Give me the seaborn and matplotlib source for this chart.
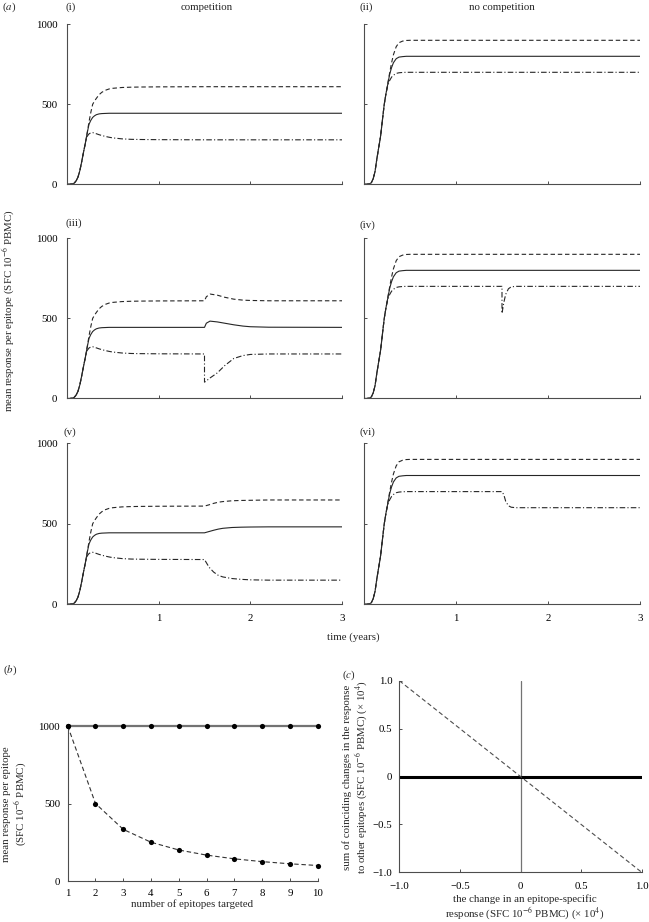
import numpy as np
import pandas as pd
import matplotlib
matplotlib.use('Agg')
import matplotlib.pyplot as plt
import seaborn as sns

# tiempos comunes hasta t = 1.5 anos
t_pre = [0, 0.03, 0.06, 0.08, 0.1, 0.12, 0.14, 0.16, 0.18, 0.2, 0.22, 0.24, 0.26,
         0.28, 0.3, 0.32, 0.35, 0.38, 0.42, 0.46, 0.5, 0.6, 0.7, 0.8, 1.0, 1.5]

# con competicion (i), (iii), (v) antes de la perturbacion
comp_dash_pre = [0, 0, 3, 8, 22, 45, 85, 140, 200, 256, 320, 390, 450,
                 500, 520, 537, 560, 575, 588, 596, 600, 605, 607, 608, 609, 610]
comp_solid_pre = [0, 0, 3, 8, 22, 45, 85, 140, 200, 256, 320, 375, 400,
                  418, 428, 435, 440, 442, 443, 444, 444, 444, 444, 444, 444, 444]
comp_dashdot_pre = [0, 0, 3, 8, 22, 45, 85, 140, 200, 256, 300, 315, 322,
                    323, 320, 316, 310, 305, 299, 294, 290, 284, 281, 280, 279, 278]

# sin competicion (ii), (iv), (vi) antes de la perturbacion
nocomp_dash_pre = [0, 0, 3, 10, 35, 80, 160, 230, 300, 400, 500, 570, 635,
                   700, 760, 810, 860, 885, 895, 899, 900, 900, 900, 900, 900, 900]
nocomp_solid_pre = [0, 0, 3, 10, 35, 80, 160, 230, 300, 400, 500, 570, 631,
                    690, 730, 760, 785, 795, 798, 800, 800, 800, 800, 800, 800, 800]
nocomp_dashdot_pre = [0, 0, 3, 10, 35, 80, 160, 230, 300, 400, 500, 570, 620,
                      650, 670, 682, 693, 697, 699, 700, 700, 700, 700, 700, 700, 700]

# despues de t = 1.5
t_i = [2.0, 3.0]
dash_i = [610, 610]
solid_i = [444, 444]
dashdot_i = [278, 278]

t_ii = [2.0, 3.0]
dash_ii = [900, 900]
solid_ii = [800, 800]
dashdot_ii = [700, 700]

t_iii = [1.5, 1.52, 1.56, 1.64, 1.72, 1.82, 1.92, 2.0, 2.2, 3.0]
dash_iii = [610, 635, 652, 645, 632, 620, 614, 612, 610, 610]
solid_iii = [444, 470, 483, 478, 470, 460, 452, 448, 445, 444]
dashdot_iii = [102, 110, 128, 160, 205, 250, 268, 275, 278, 278]

t_iv = [1.5, 1.52, 1.54, 1.57, 1.6, 1.65, 3.0]
dash_iv = [900, 900, 900, 900, 900, 900, 900]
solid_iv = [800, 800, 800, 800, 800, 800, 800]
dashdot_iv = [531, 600, 650, 685, 697, 700, 700]

t_v = [1.5, 1.55, 1.6, 1.65, 1.7, 1.8, 1.9, 2.0, 2.2, 3.0]
dash_v = [610, 618, 627, 634, 638, 643, 645, 646, 648, 648]
solid_v = [444, 452, 460, 467, 472, 477, 479, 480, 481, 481]
dashdot_v = [278, 230, 200, 180, 170, 160, 155, 152, 150, 150]

t_vi = [1.5, 1.52, 1.54, 1.57, 1.6, 1.65, 3.0]
dash_vi = [900, 900, 900, 900, 900, 900, 900]
solid_vi = [800, 800, 800, 800, 800, 800, 800]
dashdot_vi = [700, 680, 640, 612, 603, 600, 600]

# panel (b)
epitopes = [1, 2, 3, 4, 5, 6, 7, 8, 9, 10]
no_comp_mean = [1000, 1000, 1000, 1000, 1000, 1000, 1000, 1000, 1000, 1000]
comp_mean = [1000, 500, 333, 250, 200, 167, 143, 125, 111, 100]

# panel (c)
change = [-1.0, 1.0]
comp_change = [1.0, -1.0]
nocomp_change = [0.0, 0.0]
c_ticks = [-1.0, -0.5, 0, 0.5, 1.0]
c_ticklabels = ['\u22121.0', '\u22120.5', '0', '0.5', '1.0']

sns.set_style('ticks')
plt.rcParams['font.family'] = ['Liberation Serif', 'DejaVu Serif']
plt.rcParams['mathtext.fontset'] = 'stix'
plt.rcParams['axes.linewidth'] = 0.8
plt.rcParams['axes.edgecolor'] = '0.3'
plt.rcParams['xtick.color'] = '0.3'
plt.rcParams['ytick.color'] = '0.3'
plt.rcParams['xtick.labelcolor'] = 'black'
plt.rcParams['ytick.labelcolor'] = 'black'

FS = 7.8
W, H = 649, 922
fig = plt.figure(figsize=(6.49, 9.22), dpi=100)


def add_ax(x0, x1, ytop, ybot):
    return fig.add_axes([x0 / W, 1 - ybot / H, (x1 - x0) / W, (ybot - ytop) / H])


def txt(x, y, s, **kw):
    fig.text(x / W, 1 - y / H, s, fontsize=FS, va='center', **kw)


DASH = (0, (4, 2.5))
DASHDOT = (0, (5, 2, 1, 2))


def curva(ax, t, y, ls):
    sns.lineplot(x=t, y=y, ax=ax, color='0.15', lw=0.8, linestyle=ls,
                 estimator=None, sort=False, errorbar=None)


paneles = [
    ('(i)', 0, 0, True, t_i, dash_i, solid_i, dashdot_i),
    ('(ii)', 0, 1, False, t_ii, dash_ii, solid_ii, dashdot_ii),
    ('(iii)', 1, 0, True, t_iii, dash_iii, solid_iii, dashdot_iii),
    ('(iv)', 1, 1, False, t_iv, dash_iv, solid_iv, dashdot_iv),
    ('(v)', 2, 0, True, t_v, dash_v, solid_v, dashdot_v),
    ('(vi)', 2, 1, False, t_vi, dash_vi, solid_vi, dashdot_vi),
]
cols = [(67, 342), (364, 640)]
rows = [(24.3, 184.3), (238.3, 398.5), (443.3, 604.3)]
label_pos = {'(i)': (65, 7), '(ii)': (360, 7), '(iii)': (65, 223),
             '(iv)': (359, 225), '(v)': (64, 432), '(vi)': (359, 432)}

for nombre, r, c, comp, t_post, d_post, s_post, dd_post in paneles:
    ax = add_ax(cols[c][0], cols[c][1], rows[r][0], rows[r][1])
    if comp:
        pre = (comp_dash_pre, comp_solid_pre, comp_dashdot_pre)
    else:
        pre = (nocomp_dash_pre, nocomp_solid_pre, nocomp_dashdot_pre)
    curva(ax, t_pre + t_post, pre[0] + d_post, DASH)
    curva(ax, t_pre + t_post, pre[1] + s_post, '-')
    curva(ax, t_pre + t_post, pre[2] + dd_post, DASHDOT)
    ax.set_xlim(0, 3)
    ax.set_ylim(0, 1000)
    ax.set_xticks([1, 2, 3])
    ax.set_yticks([0, 500, 1000])
    ax.tick_params(direction='in', length=2.5, width=0.7, labelsize=FS)
    ax.tick_params(axis='x', pad=7)
    ax.tick_params(axis='y', pad=7)
    if r == 2:
        ax.set_xticklabels(['1', '2', '3'])
    else:
        ax.set_xticklabels([])
    if c == 1:
        ax.set_yticklabels([])
    ax.set_xlabel('')
    ax.set_ylabel('')
    sns.despine(ax=ax)
    txt(label_pos[nombre][0], label_pos[nombre][1], nombre, ha='left')

txt(2, 7, '($a$)', ha='left')
txt(207, 7, 'competition', ha='center')
txt(502, 7, 'no competition', ha='center')
txt(353, 637, 'time (years)', ha='center')
txt(9, 311, 'mean response per epitope (SFC 10$^{-6}$ PBMC)', ha='center', rotation=90)

# panel (b)
axb = add_ax(67.7, 317.7, 726, 881)
sns.lineplot(x=epitopes, y=no_comp_mean, ax=axb, color='0.45', lw=1.6, clip_on=False,
             estimator=None, errorbar=None)
sns.lineplot(x=epitopes, y=comp_mean, ax=axb, color='0.2', lw=0.8, linestyle=DASH,
             estimator=None, errorbar=None)
sns.scatterplot(x=epitopes, y=no_comp_mean, ax=axb, color='black', s=14, linewidth=0,
                clip_on=False, zorder=5)
sns.scatterplot(x=epitopes, y=comp_mean, ax=axb, color='black', s=14, linewidth=0,
                clip_on=False, zorder=5)
axb.set_xlim(1, 10)
axb.set_ylim(0, 1000)
axb.set_xticks(epitopes)
axb.set_yticks([0, 500, 1000])
axb.tick_params(direction='in', length=2.5, width=0.7, labelsize=FS, pad=5.5)
axb.set_xlabel('')
axb.set_ylabel('')
sns.despine(ax=axb)
txt(3, 670, '($b$)', ha='left')
txt(192, 904, 'number of epitopes targeted', ha='center')
txt(15.5, 804, 'mean response per epitope\n(SFC 10$^{-6}$ PBMC)', ha='center',
    rotation=90, multialignment='center', linespacing=1.2)

# panel (c)
axc = add_ax(399.3, 641.7, 680.7, 872.3)
axc.axvline(0, color='0.45', lw=0.9)
sns.lineplot(x=change, y=nocomp_change, ax=axc, color='black', lw=2.2,
             estimator=None, errorbar=None)
sns.lineplot(x=change, y=comp_change, ax=axc, color='0.3', lw=0.8, linestyle=DASH,
             estimator=None, errorbar=None)
axc.set_xlim(-1, 1)
axc.set_ylim(-1, 1)
axc.set_xticks(c_ticks)
axc.set_yticks(c_ticks)
axc.set_xticklabels(c_ticklabels)
axc.set_yticklabels(c_ticklabels)
axc.tick_params(direction='in', length=2.5, width=0.7, labelsize=FS)
axc.tick_params(axis='x', pad=7)
axc.tick_params(axis='y', pad=5)
axc.set_xlabel('')
axc.set_ylabel('')
sns.despine(ax=axc)
txt(342, 675, '($c$)', ha='left')
txt(525, 908, 'the change in an epitope-specific\nresponse (SFC 10$^{-6}$ PBMC) (\u00d7 10$^4$)',
    ha='center', multialignment='center', linespacing=1.15)
txt(356, 777, 'sum of coinciding changes in the response\nto other epitopes (SFC 10$^{-6}$ PBMC) (\u00d7 10$^4$)',
    ha='center', rotation=90, multialignment='center', linespacing=1.15)

fig.savefig('out.png', dpi=100)
